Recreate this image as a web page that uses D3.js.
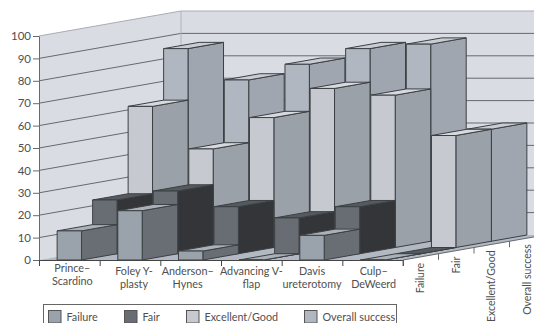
<!DOCTYPE html>
<html>
<head>
<meta charset="utf-8">
<script src="https://cdn.jsdelivr.net/npm/d3@7"></script>
<style>
    html, body { margin: 0; padding: 0; background: #fff; overflow: hidden; }
    svg { display: block; }
    text { font-family: Lato, sans-serif; font-size: 10.8px; fill: #4f4f4f; }
</style>
</head>
<body>
<svg id="chart" width="534" height="323"></svg>
<script>
const categories = [
    ['Prince–', 'Scardino'],
    ['Foley Y-', 'plasty'],
    ['Anderson–', 'Hynes'],
    ['Advancing V-', 'flap'],
    ['Davis', 'ureterotomy'],
    ['Culp–', 'DeWeerd']
];
const seriesNames = ['Failure', 'Fair', 'Excellent/Good', 'Overall success'];
const failure = [13, 22, 4, 0, 11, 0];
const fair = [24, 28, 21, 16, 21, 0];
const excellent = [63, 44, 58, 71, 68, 50];
const overall = [86, 72, 79, 86, 88, 50];
const yTicks = [0, 10, 20, 30, 40, 50, 60, 70, 80, 90, 100];

const seriesValues = [failure, fair, excellent, overall];

// front, side and top colours of each series
const faceColors = [
    { front: '#9aa2ab', side: '#686e74', top: '#abb1b9' },
    { front: '#686d73', side: '#333538', top: '#555a5f' },
    { front: '#c6cad0', side: '#9aa1a9', top: '#d6d9de' },
    { front: '#b1b7c0', side: '#a0a6af', top: '#c9cdd3' }
];

const svg = d3.select('#chart');

const x0 = 39, x1 = 403, yBase = 260, yTop = 36;
const depthX = 142, depthY = -25;

const y = d3.scaleLinear().domain([0, 100]).range([yBase, yTop]);
const catIndex = d3.scaleLinear().domain([0, categories.length]).range([x0, x1]);
const x = d3.scaleBand()
    .domain(d3.range(categories.length))
    .range([x0, x1])
    .paddingInner(0.598)
    .paddingOuter(0.299);
const dx = d3.scaleLinear().domain([0, seriesNames.length]).range([0, depthX]);
const dy = d3.scaleLinear().domain([0, seriesNames.length]).range([0, depthY]);

const poly = pts => 'M' + pts.map(p => p.join(',')).join('L') + 'Z';

// walls and floor
const walls = svg.append('g');
walls.append('path')
    .attr('d', poly([[x0, y(100)], [x0 + depthX, y(100) + depthY], [x0 + depthX, yBase + depthY], [x0, yBase]]))
    .attr('fill', '#d9dce2');
walls.append('path')
    .attr('d', poly([[x0 + depthX, y(100) + depthY], [534, y(100) + depthY], [534, yBase + depthY], [x0 + depthX, yBase + depthY]]))
    .attr('fill', '#d9dce2');
walls.append('path')
    .attr('d', poly([[x0, yBase], [x1, yBase], [x1 + depthX, yBase + depthY], [x0 + depthX, yBase + depthY]]))
    .attr('fill', '#b3b9c2');

// grid lines on both walls
const grid = svg.append('g').attr('fill', 'none');
grid.selectAll('path')
    .data(yTicks.filter(d => d > 0))
    .join('path')
    .attr('d', d => `M${x0},${y(d)}L${x0 + depthX},${y(d) + depthY}L534,${y(d) + depthY}`)
    .attr('stroke', d => d === 100 ? '#a9adb2' : '#666a6e')
    .attr('stroke-width', 1);
grid.append('path')
    .attr('d', `M${x0 + depthX},${y(100) + depthY}V${yBase + depthY}`)
    .attr('stroke', '#b0b4ba');

// bars, back series first so the front ones cover them
const bars = svg.append('g')
    .attr('stroke', '#3c4044')
    .attr('stroke-width', 1)
    .attr('stroke-linejoin', 'round');

d3.range(seriesNames.length).reverse().forEach(s => {
    const offX = dx(s), offY = dy(s), w = x.bandwidth();
    const backX = dx(s + 1) - offX, backY = dy(s + 1) - offY;
    const cells = bars.append('g').selectAll('g')
        .data(seriesValues[s])
        .join('g');

    cells.append('path')
        .attr('fill', faceColors[s].side)
        .attr('d', (d, i) => {
            const r = x(i) + offX + w, t = y(d) + offY, b = yBase + offY;
            return poly([[r, t], [r + backX, t + backY], [r + backX, b + backY], [r, b]]);
        });
    cells.append('path')
        .attr('fill', faceColors[s].top)
        .attr('d', (d, i) => {
            const l = x(i) + offX, t = y(d) + offY;
            return poly([[l, t], [l + w, t], [l + w + backX, t + backY], [l + backX, t + backY]]);
        });
    cells.append('path')
        .attr('fill', faceColors[s].front)
        .attr('d', (d, i) => {
            const l = x(i) + offX, t = y(d) + offY, b = yBase + offY;
            return poly([[l, t], [l + w, t], [l + w, b], [l, b]]);
        });
});

// y axis
const yAxis = svg.append('g')
    .attr('transform', `translate(${x0},0)`)
    .call(d3.axisLeft(y).tickValues(yTicks).tickSize(6).tickSizeOuter(0).tickPadding(2));
yAxis.selectAll('path, line').attr('stroke', '#666a6e');
yAxis.selectAll('text').style('font-size', '11.5px').style('font-family', 'Lato, sans-serif');

// category axis, ticks sit between the bars
const xAxis = svg.append('g')
    .attr('transform', `translate(0,${yBase})`)
    .call(d3.axisBottom(catIndex).ticks(categories.length).tickSize(6).tickSizeOuter(0).tickFormat(''));
xAxis.selectAll('path, line').attr('stroke', '#444');

// one text per label line
const labelNudge = [3, 4, -3, 0, 0, 1];
const labelLines = categories.flatMap((lines, i) => lines.map((text, row) => ({ text, i, row })));
svg.append('g').selectAll('text')
    .data(labelLines)
    .join('text')
    .attr('text-anchor', 'middle')
    .attr('x', d => catIndex(d.i + 0.5) + labelNudge[d.i])
    .attr('y', d => (d.i === 0 ? 272 : 275) + d.row * 13.4)
    .text(d => d.text);

// series axis along the floor edge
const seriesAxis = svg.append('g').attr('stroke', '#666a6e').attr('fill', 'none');
seriesAxis.append('path')
    .attr('d', `M${x1},${yBase}L${x1 + depthX},${yBase + depthY}`);
seriesAxis.selectAll('line')
    .data(d3.range(seriesNames.length))
    .join('line')
    .attr('x1', d => x1 + dx(d))
    .attr('x2', d => x1 + dx(d))
    .attr('y1', d => yBase + dy(d))
    .attr('y2', d => yBase + dy(d) + 6);

svg.append('g').selectAll('text')
    .data(seriesNames)
    .join('text')
    .attr('text-anchor', 'end')
    .style('font-size', '10.5px')
    .attr('transform', (d, i) => `translate(${x1 + dx(i + 0.5) + 3.5},${yBase + dy(i + 0.5) + 6}) rotate(-90)`)
    .text(d => d);

// legend, cut by the bottom of the picture as in the original
const legend = svg.append('g');
legend.append('rect')
    .attr('x', 43.5).attr('y', 304.5)
    .attr('width', 353).attr('height', 30)
    .attr('fill', '#fff')
    .attr('stroke', '#666');
const legendX = [48, 124, 186, 304];
const items = legend.selectAll('g')
    .data(seriesNames)
    .join('g')
    .attr('transform', (d, i) => `translate(${legendX[i]},310)`);
items.append('rect')
    .attr('x', 0.5).attr('y', 0.5)
    .attr('width', 12.5).attr('height', 12.5)
    .attr('fill', (d, i) => faceColors[i].front)
    .attr('stroke', '#555');
items.append('text')
    .attr('x', 18.5)
    .attr('y', 10.8)
    .text(d => d);
</script>
</body>
</html>
